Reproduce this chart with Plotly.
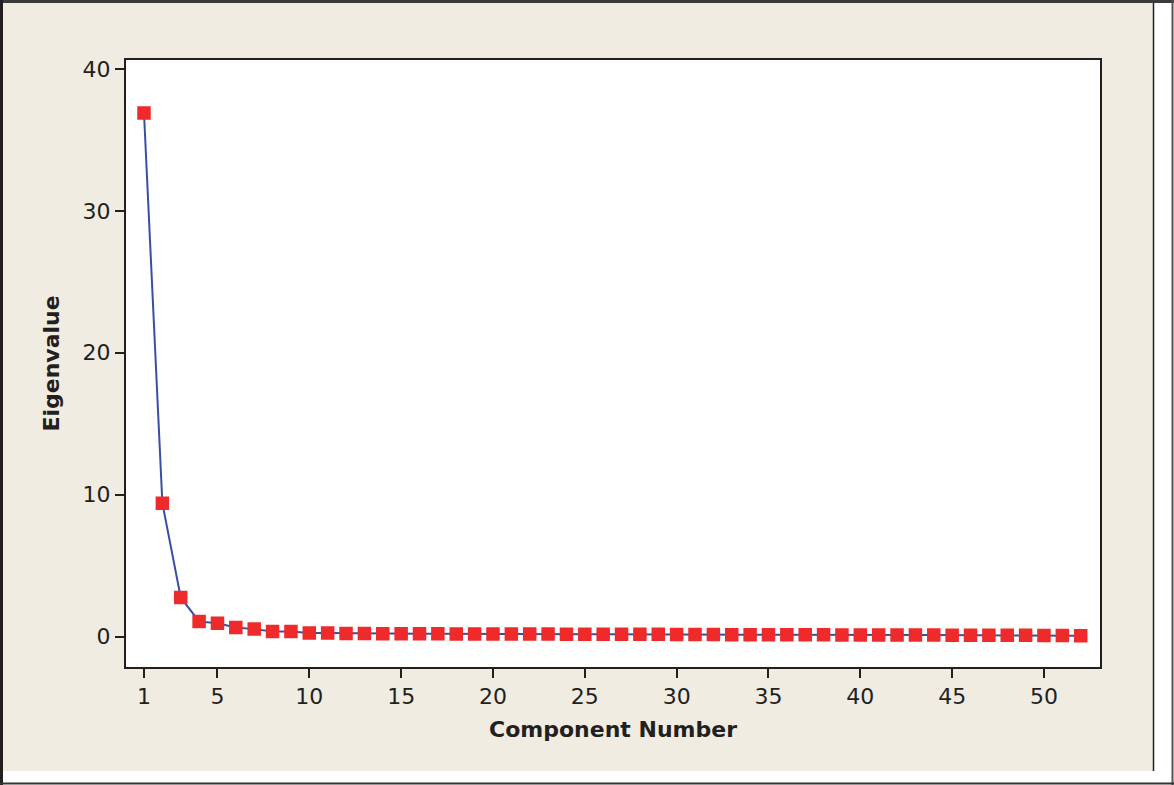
import plotly.graph_objects as go

components = list(range(1, 53))
eigenvalues = [36.9, 9.4, 2.75, 1.06, 0.94, 0.64, 0.52, 0.36, 0.35, 0.24,
               0.24, 0.22, 0.21, 0.2, 0.2, 0.19, 0.19, 0.18, 0.18, 0.18,
               0.17, 0.17, 0.17, 0.16, 0.16, 0.16, 0.15, 0.15, 0.15, 0.14,
               0.14, 0.14, 0.13, 0.13, 0.13, 0.12, 0.12, 0.12, 0.11, 0.11,
               0.11, 0.1, 0.1, 0.1, 0.09, 0.09, 0.09, 0.08, 0.08, 0.07,
               0.07, 0.06]
x_ticks = [1, 5, 10, 15, 20, 25, 30, 35, 40, 45, 50]
y_ticks = [0, 10, 20, 30, 40]

W, H = 1174, 785
L, R, T, B = 126, 74, 60, 118
pw, ph = W - L - R, H - T - B

def px(x):
    return (x - L) / pw

def py(y):
    return (H - B - y) / ph

fig = go.Figure()
fig.add_trace(go.Scatter(
    x=components, y=eigenvalues, mode="lines+markers",
    line=dict(color="#3A4FA3", width=2),
    marker=dict(symbol="square", size=11, color="#EE2A2A",
                line=dict(color="#EE2A2A", width=2.5)),
    showlegend=False,
))

axis_common = dict(showline=True, mirror=True, linecolor="#231F20", linewidth=2,
                   ticks="outside", ticklen=9, tickwidth=2, tickcolor="#231F20",
                   showgrid=False, zeroline=False,
                   tickfont=dict(family="DejaVu Sans", size=22, color="#231F20"))

fig.update_xaxes(range=[0.02, 53.05], tickvals=x_ticks, **axis_common,
                 title=dict(text="Component Number", standoff=13,
                            font=dict(family="DejaVu Sans", size=22, color="#231F20", weight="bold")))
fig.update_yaxes(range=[-2.15, 40.64], tickvals=y_ticks, **axis_common,
                 title=dict(text="Eigenvalue", standoff=17,
                            font=dict(family="DejaVu Sans", size=22, color="#231F20", weight="bold")))

shapes = [
    dict(type="rect", xref="paper", yref="paper", x0=px(1154), x1=px(W), y0=py(0), y1=py(H),
         fillcolor="white", line=dict(width=0), layer="below"),
    dict(type="rect", xref="paper", yref="paper", x0=px(0), x1=px(W), y0=py(771), y1=py(H),
         fillcolor="white", line=dict(width=0), layer="below"),
    dict(type="line", xref="paper", yref="paper", x0=px(1153.5), x1=px(1153.5), y0=py(2), y1=py(771),
         line=dict(color="#231F20", width=1.5)),
    dict(type="line", xref="paper", yref="paper", x0=px(0), x1=px(W), y0=py(1.5), y1=py(1.5),
         line=dict(color="#3a3a3a", width=3)),
    dict(type="line", xref="paper", yref="paper", x0=px(1.5), x1=px(1.5), y0=py(0), y1=py(H),
         line=dict(color="#231F20", width=3)),
    dict(type="line", xref="paper", yref="paper", x0=px(1172.5), x1=px(1172.5), y0=py(0), y1=py(H),
         line=dict(color="#555555", width=2)),
    dict(type="line", xref="paper", yref="paper", x0=px(0), x1=px(W), y0=py(783.5), y1=py(783.5),
         line=dict(color="#333333", width=2)),
]

fig.update_layout(
    width=W, height=H,
    margin=dict(l=L, r=R, t=T, b=B, autoexpand=False),
    paper_bgcolor="#F0ECE2", plot_bgcolor="white",
    shapes=shapes,
)

fig.write_html("out.html", config={"displayModeBar": False},
               post_script="document.body.style.margin='0';document.body.style.overflow='hidden';")
